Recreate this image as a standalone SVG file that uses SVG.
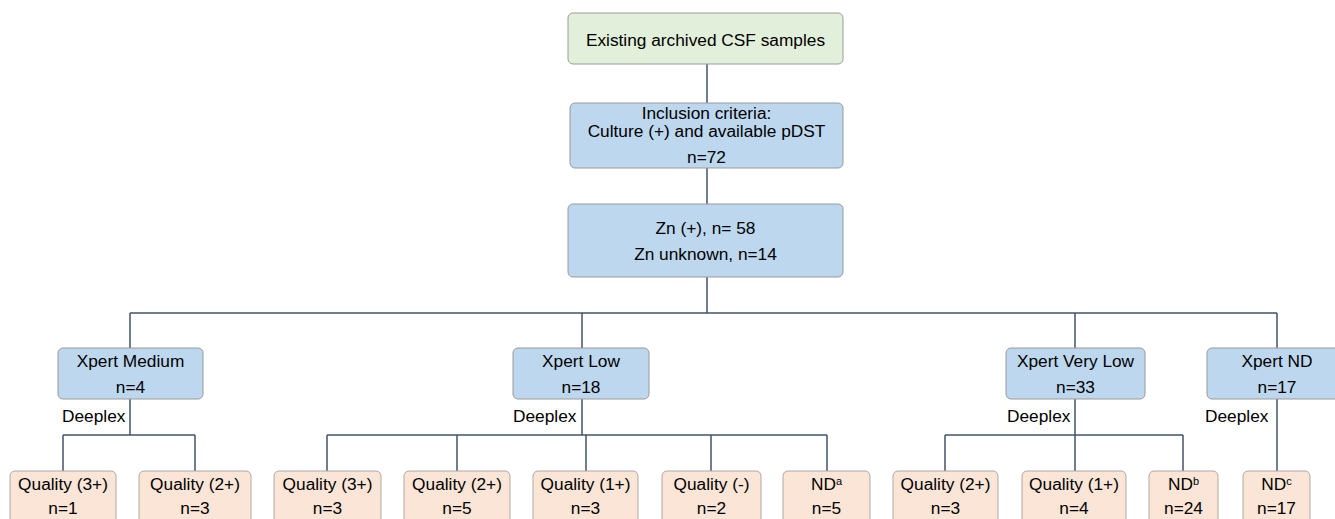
<svg xmlns="http://www.w3.org/2000/svg" width="1335" height="519" viewBox="0 0 1335 519">
<style>
text{font-family:"Liberation Sans",Arial,sans-serif;font-size:17.3px;fill:#000;text-anchor:middle}
.lbl{text-anchor:start}
.g{fill:#e2efda;stroke:#9a9a9a;stroke-width:1}
.b{fill:#bdd7ee;stroke:#9a9a9a;stroke-width:1}
.p{fill:#fbe5d6;stroke:#b0a8a4;stroke-width:1}
.c{fill:none;stroke:#44546a;stroke-width:1.5}
.sup{font-size:11px}
</style>
<rect width="1335" height="519" fill="#fff"/>
<g id="connectors">
<path class="c" d="M707,64V103M707,168V204M707,277V313M130,313H1277M130,313V348M582,313V348M1075,313V348M1277,313V348"/>
<path class="c" d="M130,399V435M63,435H195M63,435V471M195,435V471"/>
<path class="c" d="M582,399V435M327,435H827M327,435V471M457,435V471M586,435V471M711,435V471M827,435V471"/>
<path class="c" d="M1075,399V435M945,435H1183M945,435V471M1075,435V471M1183,435V471"/>
<path class="c" d="M1277,399V471"/>
</g>
<g id="n_top"><rect class="g" x="568" y="13" width="275" height="51" rx="5"/><text x="705.5" y="45.5">Existing archived CSF samples</text></g>
<g id="n_incl"><rect class="b" x="570" y="103" width="273" height="65" rx="5"/><text x="706.5" y="119">Inclusion criteria:</text><text x="706.5" y="136.5">Culture (+) and available pDST</text><text x="706.5" y="163">n=72</text></g>
<g id="n_zn"><rect class="b" x="568" y="204" width="275" height="73" rx="5"/><text x="705.5" y="234">Zn (+), n= 58</text><text x="705.5" y="259.5">Zn unknown, n=14</text></g>
<g id="n_med"><rect class="b" x="58" y="348" width="145" height="51" rx="5"/><text x="130.5" y="367">Xpert Medium</text><text x="130.5" y="393">n=4</text></g>
<g id="n_low"><rect class="b" x="513" y="348" width="136" height="51" rx="5"/><text x="581" y="367">Xpert Low</text><text x="581" y="393">n=18</text></g>
<g id="n_vlow"><rect class="b" x="1006" y="348" width="139" height="51" rx="5"/><text x="1075.5" y="367">Xpert Very Low</text><text x="1075.5" y="393">n=33</text></g>
<g id="n_nd"><rect class="b" x="1207" y="348" width="140" height="51" rx="5"/><text x="1277" y="367">Xpert ND</text><text x="1277" y="393">n=17</text></g>
<g id="labels"><text class="lbl" x="62" y="422">Deeplex</text><text class="lbl" x="513" y="422">Deeplex</text><text class="lbl" x="1007" y="422">Deeplex</text><text class="lbl" x="1205" y="422">Deeplex</text></g>
<g id="l_m3"><rect class="p" x="10" y="471" width="106" height="55" rx="5"/><text x="63" y="490">Quality (3+)</text><text x="63" y="514">n=1</text></g>
<g id="l_m2"><rect class="p" x="139" y="471" width="112" height="55" rx="5"/><text x="195" y="490">Quality (2+)</text><text x="195" y="514">n=3</text></g>
<g id="l_l3"><rect class="p" x="274" y="471" width="107" height="55" rx="5"/><text x="327.5" y="490">Quality (3+)</text><text x="327.5" y="514">n=3</text></g>
<g id="l_l2"><rect class="p" x="404" y="471" width="106" height="55" rx="5"/><text x="457" y="490">Quality (2+)</text><text x="457" y="514">n=5</text></g>
<g id="l_l1"><rect class="p" x="533" y="471" width="105" height="55" rx="5"/><text x="585.5" y="490">Quality (1+)</text><text x="585.5" y="514">n=3</text></g>
<g id="l_lneg"><rect class="p" x="662" y="471" width="99" height="55" rx="5"/><text x="711.5" y="490">Quality (-)</text><text x="711.5" y="514">n=2</text></g>
<g id="l_lnd"><rect class="p" x="783" y="471" width="87" height="55" rx="5"/><text x="826.5" y="490">ND<tspan class="sup" dy="-5">a</tspan></text><text x="826.5" y="514">n=5</text></g>
<g id="l_v2"><rect class="p" x="893" y="471" width="105" height="55" rx="5"/><text x="945.5" y="490">Quality (2+)</text><text x="945.5" y="514">n=3</text></g>
<g id="l_v1"><rect class="p" x="1022" y="471" width="104" height="55" rx="5"/><text x="1074" y="490">Quality (1+)</text><text x="1074" y="514">n=4</text></g>
<g id="l_vnd"><rect class="p" x="1149" y="471" width="69" height="55" rx="5"/><text x="1183.5" y="490">ND<tspan class="sup" dy="-5">b</tspan></text><text x="1183.5" y="514">n=24</text></g>
<g id="l_nd"><rect class="p" x="1243" y="471" width="67" height="55" rx="5"/><text x="1276.5" y="490">ND<tspan class="sup" dy="-5">c</tspan></text><text x="1276.5" y="514">n=17</text></g>
</svg>
